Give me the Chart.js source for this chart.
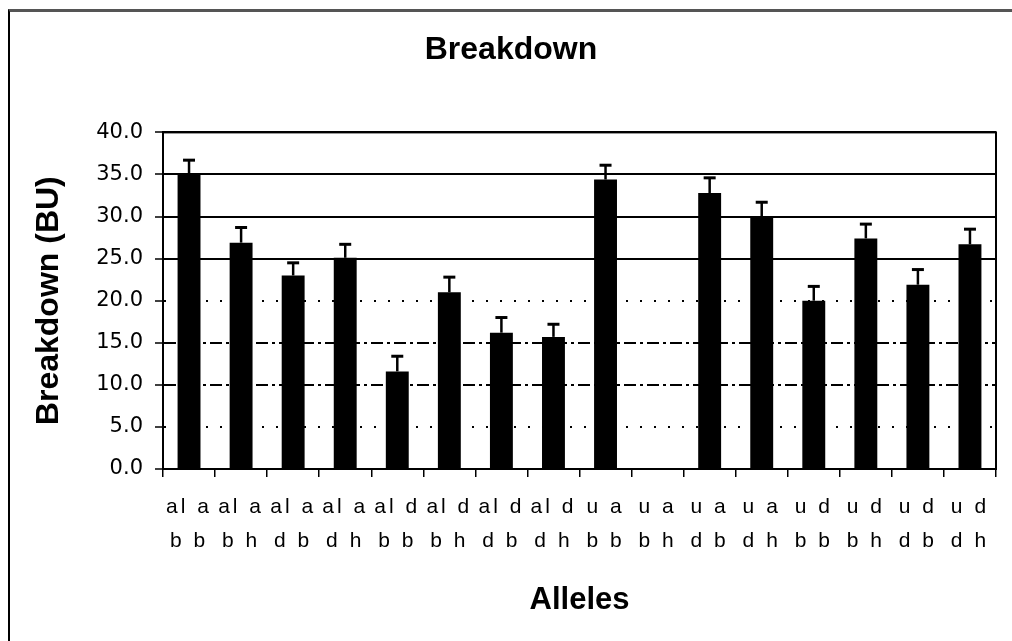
<!DOCTYPE html>
<html lang="en">
<head>
    <meta charset="UTF-8">
    <title>Breakdown</title>
    <script src="https://cdn.jsdelivr.net/npm/chart.js@4"></script>
    <style>
        html, body { margin: 0; padding: 0; background: #fff; overflow: hidden; }
        #wrap { position: relative; width: 1012px; height: 641px; }
        #frame {
            position: absolute; left: 8px; top: 9px; width: 1100px; height: 700px;
            border-top: 3px solid #555; border-left: 2px solid #000;
        }
        #chart { position: absolute; left: 0; top: 0; }
    </style>
</head>
<body>
    <div id="wrap">
        <div id="frame"></div>
        <canvas id="chart" width="1012" height="641"></canvas>
    </div>
    <script>
        // data
        const topRow = ['al a', 'al a', 'al a', 'al a', 'al d', 'al d', 'al d', 'al d',
                        'u a', 'u a', 'u a', 'u a', 'u d', 'u d', 'u d', 'u d'];
        const bottomRow = ['b b', 'b h', 'd b', 'd h', 'b b', 'b h', 'd b', 'd h',
                           'b b', 'b h', 'd b', 'd h', 'b b', 'b h', 'd b', 'd h'];
        const breakdown = [35.0, 26.9, 23.0, 25.1, 11.6, 21.0, 16.2, 15.7,
                           34.4, 0, 32.8, 30.0, 20.0, 27.4, 21.9, 26.7];
        const errorUp = [1.7, 1.8, 1.5, 1.6, 1.8, 1.8, 1.8, 1.5,
                         1.7, 0, 1.8, 1.7, 1.7, 1.7, 1.8, 1.8];

        const labels = topRow.map((t, i) => [t, bottomRow[i]]);

        // error bars (upper whisker only) + plot frame
        const errorBars = {
            id: 'errorBars',
            afterDatasetsDraw(chart) {
                const ctx = chart.ctx;
                const y = chart.scales.y;
                const meta = chart.getDatasetMeta(0);
                ctx.save();
                ctx.strokeStyle = '#000';
                meta.data.forEach((bar, i) => {
                    if (!errorUp[i]) return;
                    const yTop = y.getPixelForValue(breakdown[i] + errorUp[i]);
                    ctx.lineWidth = 2.5;
                    ctx.beginPath();
                    ctx.moveTo(bar.x, bar.y);
                    ctx.lineTo(bar.x, yTop);
                    ctx.stroke();
                    ctx.lineWidth = 3;
                    ctx.beginPath();
                    ctx.moveTo(bar.x - 6, yTop);
                    ctx.lineTo(bar.x + 6, yTop);
                    ctx.stroke();
                });
                ctx.restore();
                // x tick labels are drawn after this (ticks.z = 1): spread them out a bit
                ctx.letterSpacing = '3px';
            },
            afterDraw(chart) {
                const a = chart.chartArea;
                const ctx = chart.ctx;
                ctx.letterSpacing = '0px';
                ctx.save();
                ctx.strokeStyle = '#000';
                ctx.lineWidth = 2;
                ctx.strokeRect(a.left, a.top, a.right - a.left, a.bottom - a.top);
                ctx.restore();
            }
        };

        function gridDash(ctx) {
            if (!ctx.tick) return [];
            const v = ctx.tick.value;
            if (v === 20 || v === 5) return [2, 12];
            if (v === 10 || v === 15) return [12, 4, 3, 4];
            return [];
        }

        new Chart(document.getElementById('chart'), {
            type: 'bar',
            data: {
                labels: labels,
                datasets: [{
                    label: 'Breakdown',
                    data: breakdown,
                    backgroundColor: '#000',
                    borderWidth: 0,
                    barPercentage: 0.44,
                    categoryPercentage: 1.0
                }]
            },
            options: {
                responsive: false,
                animation: false,
                layout: { padding: { left: 26, right: 16, top: 0, bottom: 10 } },
                plugins: {
                    legend: { display: false },
                    tooltip: { enabled: false },
                    title: {
                        display: true,
                        text: 'Breakdown',
                        color: '#000',
                        font: { family: 'Liberation Sans', size: 32, weight: 'bold', lineHeight: 1.2 },
                        padding: { top: 31, bottom: 63 }
                    }
                },
                scales: {
                    x: {
                        afterFit: s => { s.height = 162; },
                        grid: {
                            drawOnChartArea: false,
                            drawTicks: true,
                            tickLength: 8,
                            color: '#000',
                            lineWidth: 1.5
                        },
                        border: { display: true, color: '#000', width: 2 },
                        ticks: {
                            z: 1,
                            color: '#000',
                            padding: 13,
                            maxRotation: 0,
                            autoSkip: false,
                            font: { family: 'Liberation Sans', size: 21, lineHeight: '34px' }
                        },
                        title: {
                            display: true,
                            text: 'Alleles',
                            color: '#000',
                            font: { family: 'Liberation Sans', size: 31, weight: 'bold', lineHeight: 1.2 },
                            padding: { top: 4, bottom: 12 }
                        }
                    },
                    y: {
                        min: 0,
                        max: 40,
                        afterFit: s => { s.width = 137; },
                        grid: {
                            color: '#000',
                            lineWidth: 2,
                            tickLength: 8,
                            tickBorderDash: [],
                            tickWidth: 1.5
                        },
                        border: { display: true, color: '#000', width: 2, dash: gridDash },
                        ticks: {
                            stepSize: 5,
                            color: '#000',
                            padding: 12,
                            font: { family: 'DejaVu Sans', size: 21 },
                            callback: v => v.toFixed(1)
                        },
                        title: {
                            display: true,
                            text: 'Breakdown (BU)',
                            color: '#000',
                            font: { family: 'Liberation Sans', size: 32, weight: 'bold', lineHeight: 1.2 },
                            padding: { top: 4, bottom: 4 }
                        }
                    }
                }
            },
            plugins: [errorBars]
        });
    </script>
</body>
</html>
